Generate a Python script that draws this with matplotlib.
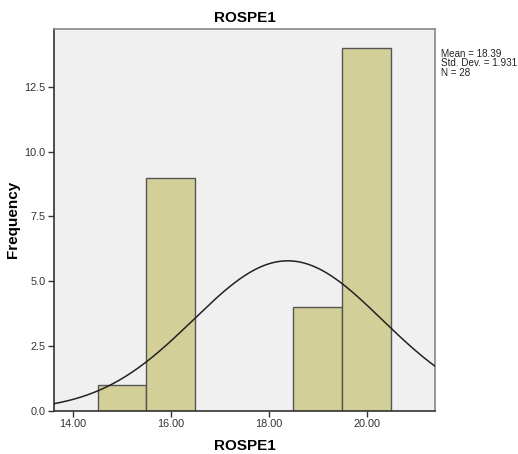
import numpy as np
import matplotlib
matplotlib.use('Agg')
import matplotlib.pyplot as plt

plt.rcParams['font.family'] = ['Liberation Sans', 'DejaVu Sans']

# histogram bins (left edges), counts
bin_left = [14.5, 15.5, 18.5, 19.5]
counts = [1, 9, 4, 14]
bin_width = 1.0

mean = 18.39
std = 1.931
n = 28

x_ticks = [14.0, 16.0, 18.0, 20.0]
x_labels = ['14.00', '16.00', '18.00', '20.00']
y_ticks = [0.0, 2.5, 5.0, 7.5, 10.0, 12.5]
y_labels = ['0.0', '2.5', '5.0', '7.5', '10.0', '12.5']

fig = plt.figure(figsize=(5.18, 4.54), dpi=100)
ax = fig.add_axes([0.1042, 0.0954, 0.7356, 0.8406])
ax.set_facecolor('#f0f0f0')

ax.bar(bin_left, counts, width=bin_width, align='edge',
       color='#d3cf98', edgecolor='#555555', linewidth=1.0, zorder=2)

xmin, xmax = 13.61, 21.40
xs = np.linspace(xmin, xmax, 300)
ys = n * bin_width / (std * np.sqrt(2 * np.pi)) * np.exp(-0.5 * ((xs - mean) / std) ** 2)
ax.plot(xs, ys, color='#222222', linewidth=1.1, zorder=3)

ax.set_xlim(xmin, xmax)
ax.set_ylim(0, 14.73)
ax.set_xticks(x_ticks)
ax.set_xticklabels(x_labels)
ax.set_yticks(y_ticks)
ax.set_yticklabels(y_labels)
ax.tick_params(direction='out', length=4, width=1, colors='#333333',
               labelsize=7.8, labelcolor='#333333', pad=2)

for side in ['top', 'right']:
    ax.spines[side].set_color('#888888')
    ax.spines[side].set_linewidth(1.2)
for side in ['left', 'bottom']:
    ax.spines[side].set_color('#333333')
    ax.spines[side].set_linewidth(1.2)

ax.set_title('ROSPE1', fontsize=11, fontweight='bold', pad=5)
ax.set_xlabel('ROSPE1', fontsize=11, fontweight='bold')
ax.xaxis.set_label_coords(0.5, -0.075)
ax.set_ylabel('Frequency', fontsize=11, fontweight='bold')
ax.yaxis.set_label_coords(-0.09, 0.5)

fig.text(0.851, 0.893, 'Mean = %.2f\nStd. Dev. = %.3f\nN = %d' % (mean, std, n),
         fontsize=7.1, va='top', ha='left', color='#222222', linespacing=0.95)

fig.savefig('out.png', dpi=100, facecolor='white')
